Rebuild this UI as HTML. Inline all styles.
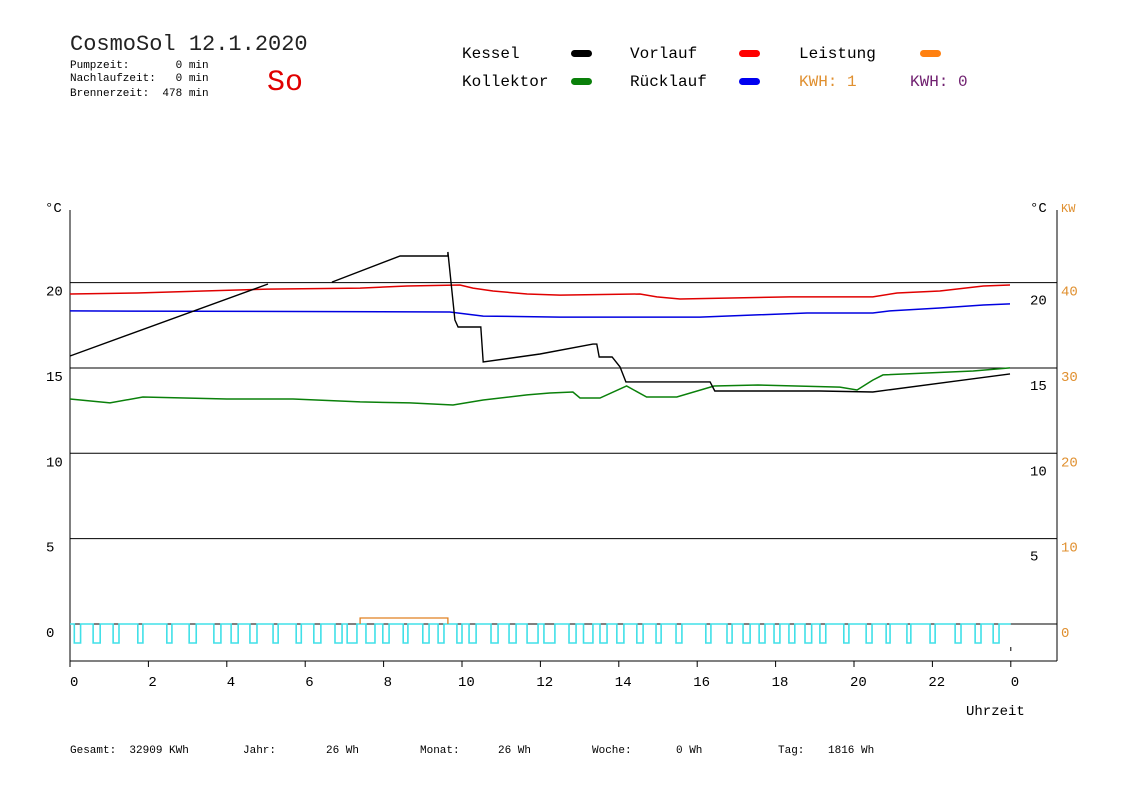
<!DOCTYPE html>
<html><head><meta charset="utf-8">
<style>
html,body{margin:0;padding:0;background:#fff;}
svg{display:block;}
text{font-family:"Liberation Mono","DejaVu Sans Mono",monospace;}
</style></head>
<body>
<svg id="chart" width="1148" height="812" viewBox="0 0 1148 812" xmlns="http://www.w3.org/2000/svg">
<rect width="1148" height="812" fill="#fff"/>
<text x="70" y="50" font-size="22" fill="#222">CosmoSol 12.1.2020</text>
<g font-size="11" fill="#000">
<text x="70" y="68" xml:space="preserve">Pumpzeit:       0 min</text>
<text x="70" y="81" xml:space="preserve">Nachlaufzeit:   0 min</text>
<text x="70" y="96" xml:space="preserve">Brennerzeit:  478 min</text>
</g>
<text x="267" y="90" font-size="30" fill="#e00000">So</text>
<g font-size="16">
<text x="462" y="58" fill="#000">Kessel</text>
<rect x="571" y="50" width="21" height="7" rx="3.5" fill="#000"/>
<text x="462" y="86" fill="#000">Kollektor</text>
<rect x="571" y="78" width="21" height="7" rx="3.5" fill="#0a800a"/>
<text x="630" y="58" fill="#000">Vorlauf</text>
<rect x="739" y="50" width="21" height="7" rx="3.5" fill="#f00"/>
<text x="630" y="86" fill="#000">Rücklauf</text>
<rect x="739" y="78" width="21" height="7" rx="3.5" fill="#0000f0"/>
<text x="799" y="58" fill="#000">Leistung</text>
<rect x="920" y="50" width="21" height="7" rx="3.5" fill="#ff8010"/>
<text x="799" y="86" fill="#e09030">KWH: 1</text>
<text x="910" y="86" fill="#702070">KWH: 0</text>
</g>
<g font-size="11" fill="#000">
<text x="70" y="753" xml:space="preserve">Gesamt:  32909 KWh</text>
<text x="243" y="753">Jahr:</text><text x="326" y="753">26 Wh</text>
<text x="420" y="753">Monat:</text><text x="498" y="753">26 Wh</text>
<text x="592" y="753">Woche:</text><text x="676" y="753">0 Wh</text>
<text x="778" y="753">Tag:</text><text x="828" y="753">1816 Wh</text>
</g>
<g id="plot"></g>
</svg>
<script>
const xTicks=[0,2,4,6,8,10,12,14,16,18,20,22,24];
const tempTicks=[0,5,10,15,20];
const kwTicks=[0,10,20,30,40];
const kesselH=[0,5.05,null,6.68,8.42,9.64,9.64,9.82,9.9,10.48,10.54,11.99,13.34,13.44,13.5,13.83,14.03,14.18,16.33,16.45,19.13,20.48,23.98];
const kesselT=[15.7,19.92,null,20.03,21.56,21.56,21.79,17.81,17.4,17.4,15.35,15.82,16.4,16.4,15.64,15.64,15.06,14.18,14.18,13.65,13.65,13.59,14.65];
const vorlaufH=[0,1.71,3.4,5.04,7.4,8.6,9.95,10.28,10.79,11.66,12.5,14.54,14.97,15.56,18.36,20.48,21.1,22.19,23.3,23.98];
const vorlaufT=[19.33,19.39,19.51,19.62,19.68,19.8,19.86,19.68,19.51,19.33,19.27,19.33,19.16,19.04,19.16,19.16,19.39,19.51,19.8,19.86];
const ruecklaufH=[0,9.69,10.54,12.5,16.07,18.8,20.48,20.92,22.19,23.3,23.98];
const ruecklaufT=[18.34,18.28,18.04,17.98,17.98,18.22,18.22,18.34,18.51,18.69,18.75];
const kollektorH=[0,1.02,1.86,4.0,5.69,7.4,8.67,9.77,10.54,11.66,12.24,12.83,13.01,13.52,14.2,14.71,15.48,16.43,17.55,19.64,20.08,20.48,20.74,23.04,23.98];
const kollektorT=[13.18,12.95,13.3,13.18,13.18,13.01,12.95,12.83,13.12,13.42,13.53,13.59,13.24,13.24,13.94,13.3,13.3,13.94,14.0,13.88,13.71,14.29,14.59,14.82,15.0];
const pumpStart=[0.11,0.59,1.1,1.73,2.47,3.04,3.67,4.11,4.59,5.18,5.77,6.22,6.76,7.07,7.55,7.98,8.5,9.0,9.39,9.87,10.18,10.74,11.2,11.66,12.09,12.73,13.1,13.52,13.95,14.46,14.95,15.46,16.22,16.76,17.17,17.58,17.96,18.34,18.75,19.13,19.74,20.31,20.82,21.35,21.94,22.58,23.09,23.55];
const pumpEnd=[0.27,0.77,1.25,1.86,2.6,3.22,3.85,4.29,4.77,5.31,5.9,6.4,6.94,7.32,7.78,8.14,8.62,9.16,9.54,10.0,10.36,10.92,11.38,11.94,12.37,12.91,13.34,13.7,14.13,14.62,15.08,15.61,16.35,16.89,17.35,17.73,18.11,18.49,18.92,19.28,19.87,20.46,20.92,21.45,22.07,22.73,23.24,23.7];
const leistungH=[7.4,7.4,9.64,9.64];
const leistungKW=[0,0.7,0.7,0];

const NS="http://www.w3.org/2000/svg";
const plot=document.getElementById('plot');
const X0=70,X1=1057,XH=39.2,Y0=624,YT=17.07;
const xs=h=>X0+h*XH;
const yt=t=>Y0-t*YT;
const yk=k=>Y0-k/2*YT;
function mk(tag,attrs,parent){const e=document.createElementNS(NS,tag);for(const k in attrs)e.setAttribute(k,attrs[k]);(parent||plot).appendChild(e);return e;}
function txt(x,y,s,fill,size){const e=mk('text',{x:x,y:y,fill:fill,'font-size':size});e.textContent=s;return e;}

// gridlines
tempTicks.forEach(t=>{
  const l=mk('line',{x1:X0,x2:X1,y1:yt(t),y2:yt(t),stroke:'#000','stroke-width':1});
  
  
  const a=txt(46,yt(t)+13,String(t),'#000',14);
  
  
  if(t>0){const b=txt(t>=10?1030:1030,yt(t)+22,String(t),'#000',14);
  
  }
});
kwTicks.forEach(k=>{
  const b=txt(1061,yk(k)+13,String(k),'#e09030',14);
  
  
});
[[45,212,'°C','#000',14],[1030,212,'°C','#000',14],[1061,212,'KW','#e09030',12]].forEach(a=>{
  const e=txt(a[0],a[1],a[2],a[3],a[4]);
  
  
});
// axes
let ax=mk('line',{x1:X0,x2:X0,y1:210,y2:661,stroke:'#000'});


ax=mk('line',{x1:X1,x2:X1,y1:210,y2:661,stroke:'#000'});


ax=mk('line',{x1:X0,x2:X1,y1:661,y2:661,stroke:'#000'});


xTicks.forEach(h=>{
  const l=mk('line',{x1:xs(h),x2:xs(h),y1:661,y2:667,stroke:'#000'});
  
  
  const e=txt(xs(h)-4*String(h%24).length+4,686,String(h%24),'#000',14);
  
  
});
const ux=txt(966,715,'Uhrzeit','#000',14);



// pump pulses
let d='M'+xs(0)+' '+Y0;
for(let i=0;i<pumpStart.length;i++){
  const a=xs(pumpStart[i]),b=xs(pumpEnd[i]);
  d+=' L'+a+' '+Y0+' L'+a+' 643 L'+b+' 643 L'+b+' '+Y0;
}
d+=' L'+xs(24)+' '+Y0;
const pp=mk('path',{d:d,fill:'none',stroke:'#40e0e8','stroke-width':1.6});


const tk=mk('line',{x1:xs(24),x2:xs(24),y1:647,y2:651,stroke:'#000'});



function series(H,V,yf,color,name,w){
  let dd='',pen=false;
  for(let i=0;i<H.length;i++){
    if(H[i]===null){pen=false;continue;}
    dd+=(pen?' L':' M')+xs(H[i]).toFixed(1)+' '+yf(V[i]).toFixed(1);pen=true;
  }
  const p=mk('path',{d:dd,fill:'none',stroke:color,'stroke-width':w||1.3});
  
  
}
series(leistungH,leistungKW,yk,'#e08020','leistung-line',1.3);
series(kollektorH,kollektorT,yt,'#0a800a','kollektor-line',1.5);
series(ruecklaufH,ruecklaufT,yt,'#0000e0','ruecklauf-line',1.5);
series(vorlaufH,vorlaufT,yt,'#e00000','vorlauf-line',1.5);
series(kesselH,kesselT,yt,'#000','kessel-line',1.4);
</script>
</body></html>
